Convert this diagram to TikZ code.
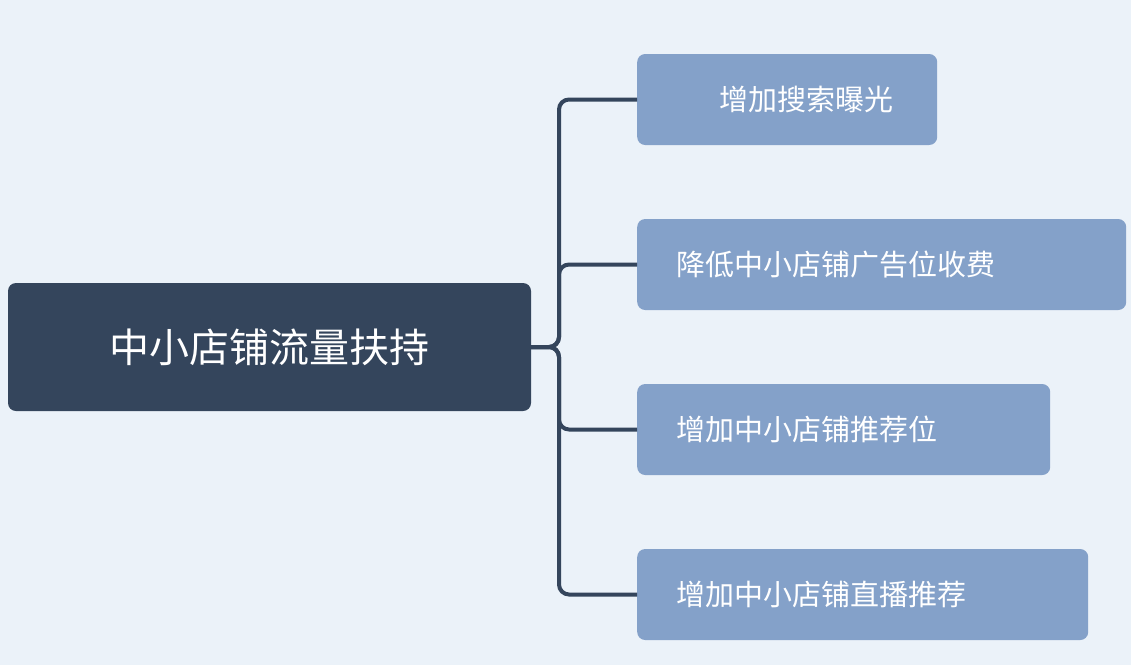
\documentclass[tikz,border=0pt]{standalone}
\usepackage{fontspec}
\newfontfamily\cjk{Noto Sans CJK SC}
\definecolor{bg}{HTML}{EBF2F9}
\definecolor{dark}{HTML}{34455C}
\definecolor{light}{HTML}{84A1C9}
\begin{document}
\begin{tikzpicture}[x=1pt,y=-1pt,
  rootbox/.style={fill=dark,rounded corners=8pt,text=white,minimum width=523pt,minimum height=128pt,inner sep=0pt,font=\cjk\fontsize{40}{48}\selectfont},
  childbox/.style={fill=light,rounded corners=8pt,text=white,minimum height=91pt,inner sep=0pt,anchor=west,font=\cjk\fontsize{29}{35}\selectfont},
  link/.style={draw=dark,line width=4pt,rounded corners=10pt}]
\fill[bg] (0,0) rectangle (1131,665);
\useasboundingbox (0,0) rectangle (1131,665);
\node[rootbox] (root) at (269.5,347) {中小店铺流量扶持};
\node[childbox,minimum width=300pt] (c1) at (637,99.5) {\hspace*{38pt}增加搜索曝光\hfill};
\node[childbox,minimum width=489pt] (c2) at (637,264.5) {};
\node[anchor=west,text=white,font=\cjk\fontsize{29}{35}\selectfont] (t2) at (673,264.5) {降低中小店铺广告位收费};
\node[childbox,minimum width=413pt] (c3) at (637,429.5) {};
\node[anchor=west,text=white,font=\cjk\fontsize{29}{35}\selectfont] (t3) at (673,429.5) {增加中小店铺推荐位};
\node[childbox,minimum width=451pt] (c4) at (637,594.5) {};
\node[anchor=west,text=white,font=\cjk\fontsize{29}{35}\selectfont] (t4) at (673,594.5) {增加中小店铺直播推荐};
\coordinate (tr) at (559,347);
\draw[link] (root.east) -- (tr) |- (c1.west);
\draw[link] (root.east) -- (tr) |- (c2.west);
\draw[link] (root.east) -- (tr) |- (c3.west);
\draw[link] (root.east) -- (tr) |- (c4.west);
\end{tikzpicture}
\end{document}
